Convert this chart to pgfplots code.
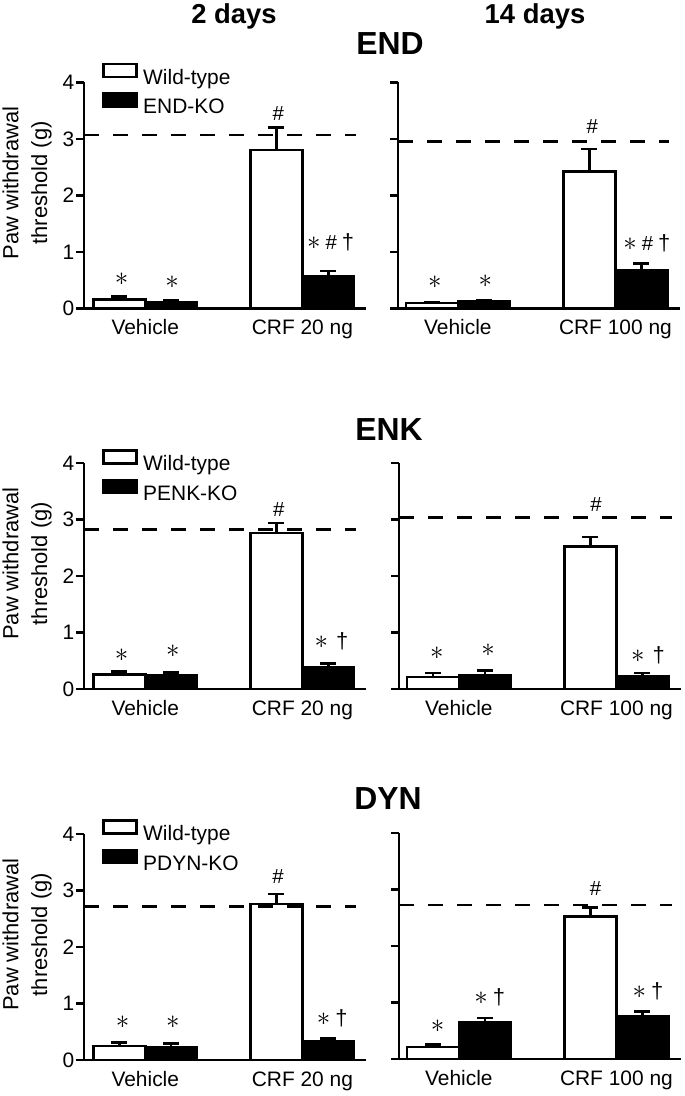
\RequirePackage{fix-cm}
\documentclass[border=0pt]{standalone}
\usepackage{fontspec}
\setmainfont{Liberation Sans}
\usepackage{pgfplots}
\pgfplotsset{compat=1.18}

\pgfplotsset{
  panel/.style={
    scale only axis, width=282bp, height=226bp, anchor=south west,
    ymin=0, ymax=4, ytick={0,1,2,3,4},
    axis x line*=bottom, axis y line*=left,
    axis line style={line width=2.5bp, black},
    tick align=outside, major tick length=8bp,
    tick style={line width=2.5bp, black},
    xtick={0,1}, xtick style={draw=none},
    xticklabel style={font=\fontsize{21}{25}\selectfont},
    yticklabel style={font=\fontsize{21}{25}\selectfont, inner sep=1.5bp},
    /pgf/number format/assume math mode=true,
  },
  leftpanel/.style={
    ylabel={Paw withdrawal\\threshold (g)},
    ylabel style={align=center, font=\fontsize{22}{29}\selectfont,
      at={(axis description cs:-0.202,0.555)}, anchor=center},
    legend cell align=left,
    legend style={draw=none, fill=none, anchor=north west, inner sep=0pt,
      font=\fontsize{21}{24}\selectfont, row sep=5bp, column sep=4bp, nodes={inner sep=1.5bp},
      at={(axis description cs:0.064,#1)}},
  },
  rightpanel/.style={yticklabels={}},
  boxlegend/.style={legend image code/.code={\draw[##1, line width=2.5bp] (0bp,0.5bp) rectangle (33bp,13.5bp);}},
  wtbar/.style={ybar, bar width=0.33, bar shift=0pt, draw=black, fill=white, line width=2.5bp,
    boxlegend,
    error bars/.cd, y dir=plus, y explicit,
    error bar style={line width=2.5bp, black, solid},
    error mark options={rotate=90, mark size=8bp, line width=2.5bp, black, solid}},
  kobar/.style={ybar, bar width=0.33, bar shift=0pt, draw=black, fill=black, line width=2.5bp,
    boxlegend,
    error bars/.cd, y dir=plus, y explicit,
    error bar style={line width=2.5bp, black, solid},
    error mark options={rotate=90, mark size=8bp, line width=2.5bp, black, solid}},
  basel/.style={line width=2.5bp, black, dash pattern=on 15bp off 14bp, forget plot},
}
\tikzset{ann/.style={font=\fontsize{20.5}{22}\selectfont, anchor=center, inner sep=0pt}}
\newcommand{\st}{{\fontsize{27}{28}\selectfont$\ast$}}
\newcommand{\dg}{{\fontsize{22}{24}\selectfont †}}

\begin{document}
\begin{tikzpicture}
\useasboundingbox (0,0) rectangle (685bp,-1096bp);

\node[font=\bfseries\fontsize{27.5}{30}\selectfont] at (234bp,-16bp) {2 days};
\node[font=\bfseries\fontsize{27.5}{30}\selectfont] at (535bp,-16bp) {14 days};
\node[font=\bfseries\fontsize{32}{34}\selectfont] at (390bp,-44bp) {END};
\node[font=\bfseries\fontsize{32}{34}\selectfont] at (389bp,-430bp) {ENK};
\node[font=\bfseries\fontsize{32}{34}\selectfont] at (388bp,-799bp) {DYN};

% ---------------- Row 1 left
\begin{axis}[panel, leftpanel=1.088, at={(84bp,-308.3bp)}, xmin=-0.39, xmax=1.405,
  xticklabels={Vehicle, CRF 20 ng}]
\addplot[wtbar] coordinates {(-0.165,0.16) +- (0,0.05) (0.835,2.80) +- (0,0.40)};
\addlegendentry{Wild-type}
\addplot[kobar] coordinates {(0.165,0.11) +- (0,0.03) (1.165,0.57) +- (0,0.09)};
\addlegendentry{END-KO}
\addplot[basel] coordinates {(-0.39,3.07) (1.34,3.07)};
\node[ann] at (axis cs:-0.15,0.52) {\st};
\node[ann] at (axis cs:0.17,0.47) {\st};
\node[ann] at (axis cs:0.847,3.44) {\#};
\node[ann] at (axis cs:1.18,1.165) {\st\hspace{5bp}\#\hspace{5bp}\dg};
\end{axis}

% ---------------- Row 1 right
\begin{axis}[panel, rightpanel, at={(398bp,-308.3bp)}, xmin=-0.38, xmax=1.41,
  xticklabels={Vehicle, CRF 100 ng}]
\addplot[wtbar] coordinates {(-0.165,0.09) +- (0,0.01) (0.835,2.42) +- (0,0.40)};
\addplot[kobar] coordinates {(0.165,0.12) +- (0,0.03) (1.165,0.68) +- (0,0.11)};
\addplot[basel] coordinates {(-0.38,2.95) (1.34,2.95)};
\node[ann] at (axis cs:-0.146,0.47) {\st};
\node[ann] at (axis cs:0.175,0.48) {\st};
\node[ann] at (axis cs:0.854,3.22) {\#};
\node[ann] at (axis cs:1.2,1.15) {\st\hspace{5bp}\#\hspace{5bp}\dg};
\end{axis}

% ---------------- Row 2 left
\begin{axis}[panel, leftpanel=1.062, at={(84bp,-689bp)}, xmin=-0.39, xmax=1.405,
  xticklabels={Vehicle, CRF 20 ng}]
\addplot[wtbar] coordinates {(-0.165,0.26) +- (0,0.05) (0.835,2.76) +- (0,0.18)};
\addlegendentry{Wild-type}
\addplot[kobar] coordinates {(0.165,0.24) +- (0,0.05) (1.165,0.38) +- (0,0.07)};
\addlegendentry{PENK-KO}
\addplot[basel] coordinates {(-0.39,2.82) (1.34,2.82)};
\node[ann] at (axis cs:-0.15,0.60) {\st};
\node[ann] at (axis cs:0.176,0.67) {\st};
\node[ann] at (axis cs:0.85,3.17) {\#};
\node[ann] at (axis cs:1.185,0.85) {\st\hspace{8bp}\dg};
\end{axis}

% ---------------- Row 2 right
\begin{axis}[panel, rightpanel, at={(399bp,-689bp)}, xmin=-0.38, xmax=1.41,
  xticklabels={Vehicle, CRF 100 ng}]
\addplot[wtbar] coordinates {(-0.165,0.21) +- (0,0.07) (0.835,2.52) +- (0,0.17)};
\addplot[kobar] coordinates {(0.165,0.25) +- (0,0.08) (1.165,0.22) +- (0,0.06)};
\addplot[basel] coordinates {(-0.38,3.04) (1.35,3.04)};
\node[ann] at (axis cs:-0.14,0.63) {\st};
\node[ann] at (axis cs:0.185,0.69) {\st};
\node[ann] at (axis cs:0.87,3.26) {\#};
\node[ann] at (axis cs:1.2,0.60) {\st\hspace{8bp}\dg};
\end{axis}

% ---------------- Row 3 left
\begin{axis}[panel, leftpanel=1.066, at={(84bp,-1060bp)}, xmin=-0.39, xmax=1.405,
  xticklabels={Vehicle, CRF 20 ng}]
\addplot[wtbar] coordinates {(-0.165,0.25) +- (0,0.06) (0.835,2.76) +- (0,0.18)};
\addlegendentry{Wild-type}
\addplot[kobar] coordinates {(0.165,0.23) +- (0,0.06) (1.165,0.33) +- (0,0.05)};
\addlegendentry{PDYN-KO}
\addplot[basel] coordinates {(-0.39,2.72) (1.34,2.72)};
\node[ann] at (axis cs:-0.145,0.67) {\st};
\node[ann] at (axis cs:0.176,0.67) {\st};
\node[ann] at (axis cs:0.845,3.25) {\#};
\node[ann] at (axis cs:1.19,0.73) {\st\hspace{5bp}\dg};
\end{axis}

% ---------------- Row 3 right
\begin{axis}[panel, rightpanel, at={(399bp,-1059bp)}, xmin=-0.38, xmax=1.41,
  xticklabels={Vehicle, CRF 100 ng}]
\addplot[wtbar] coordinates {(-0.165,0.21) +- (0,0.05) (0.835,2.52) +- (0,0.16)};
\addplot[kobar] coordinates {(0.165,0.65) +- (0,0.08) (1.165,0.75) +- (0,0.09)};
\addplot[basel] coordinates {(-0.38,2.73) (1.35,2.73)};
\node[ann] at (axis cs:-0.135,0.58) {\st};
\node[ann] at (axis cs:0.196,1.10) {\st\hspace{5bp}\dg};
\node[ann] at (axis cs:0.867,3.01) {\#};
\node[ann] at (axis cs:1.2,1.20) {\st\hspace{5bp}\dg};
\end{axis}
\end{tikzpicture}
\end{document}
